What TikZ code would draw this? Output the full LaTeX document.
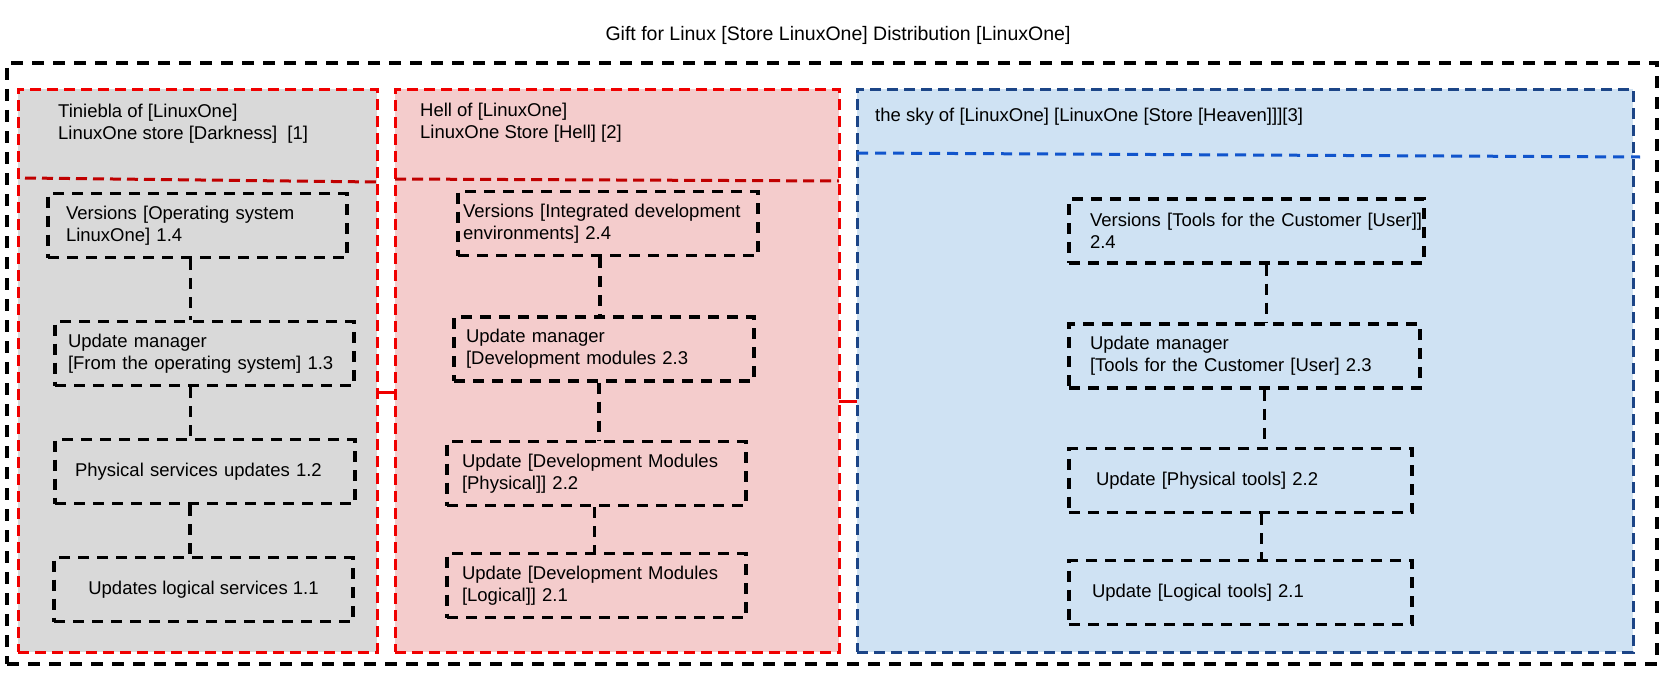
\documentclass[tikz,border=0pt]{standalone}
\usepackage{fontspec}
\setmainfont{Liberation Sans}
\definecolor{greyfill}{HTML}{D9D9D9}
\definecolor{pinkfill}{HTML}{F4CCCC}
\definecolor{bluefill}{HTML}{CFE2F3}
\definecolor{panelred}{HTML}{F00000}
\definecolor{divred}{HTML}{C00000}
\definecolor{panelblue}{HTML}{1C4587}
\definecolor{divblue}{HTML}{1155CC}
\begin{document}
\begin{tikzpicture}[x=1pt,y=-1pt,
    panel/.style={draw, line width=3pt, dash pattern=on 11pt off 6pt, minimum height=563pt, inner sep=0pt, outer sep=0pt},
    bx/.style={draw=black, line width=3.2pt, dash pattern=on 11pt off 8pt, align=left, inner ysep=0pt, minimum height=64pt, font=\fontsize{18.5}{22}\selectfont},
    hd/.style={anchor=west, align=left, inner sep=0pt, font=\fontsize{18.5}{22}\selectfont},
    link/.style={line width=3.2pt, dash pattern=on 11pt off 8pt}]
    \useasboundingbox (0,0) rectangle (1677,677);
    \node[font=\fontsize{19.5}{23}\selectfont] (title) at (838,35) {Gift for Linux [Store LinuxOne] Distribution [LinuxOne]};
    \node[draw, line width=3.2pt, dash pattern=on 12pt off 9pt, minimum width=1650pt, minimum height=601pt, inner sep=0pt] (frame) at (832,363.5) {};

    \node[panel, draw=panelred, fill=greyfill, minimum width=359pt] (p1) at (197.5,370.5) {};
    \node[panel, draw=panelred, fill=pinkfill, minimum width=444pt] (p2) at (617,370.5) {};
    \node[panel, draw=panelblue, fill=bluefill, minimum width=776pt] (p3) at (1245,370.5) {};
    \draw[divred, line width=3pt, dash pattern=on 11pt off 6pt] ([xshift=7pt,yshift=-89pt]p1.north west) -- ([yshift=-93pt]p1.north east);
    \draw[divred, line width=3pt, dash pattern=on 11pt off 6pt] ([yshift=-90pt]p2.north west) -- ([yshift=-92pt]p2.north east);
    \draw[divblue, line width=3pt, dash pattern=on 11pt off 7pt] ([yshift=-64pt]p3.north west) -- ([xshift=7pt,yshift=-68pt]p3.north east);
    \draw[panelred, line width=3pt] ([yshift=-21.5pt]p1.east) -- ([yshift=-21.5pt]p2.west);
    \draw[panelred, line width=3pt] ([yshift=-30.5pt]p2.east) -- ([yshift=-30.5pt]p3.west);

    \node[hd] (h1) at (58,124) {Tiniebla of [LinuxOne]\\LinuxOne store [Darkness]\ \ [1]};
    \node[hd] (h2) at (420,122.5) {Hell of [LinuxOne]\\LinuxOne Store [Hell] [2]};
    \node[hd] (h3) at (875,117) {the sky of [LinuxOne] [LinuxOne [Store [Heaven]]][3]};

    \node[bx, inner xsep=18pt, text width=263pt] (a4) at (197.5,225.5) {Versions [Operating system\\LinuxOne] 1.4};
    \node[bx, inner xsep=13pt, text width=273pt] (a3) at (204.5,353.5) {Update manager\\{}[From the operating system] 1.3};
    \node[bx, inner xsep=20pt, text width=260pt] (a2) at (205,471.5) {Physical services updates 1.2};
    \node[bx, minimum width=299pt] (a1) at (203.5,589.5) {Updates logical services 1.1};

    \node[bx, inner xsep=5pt, text width=290pt] (b4) at (608,223.5) {Versions [Integrated development\\environments] 2.4};
    \node[bx, inner xsep=12pt, text width=276pt] (b3) at (604,349) {Update manager\\{}[Development modules 2.3};
    \node[bx, inner xsep=15pt, text width=269pt] (b2) at (596.5,473.5) {Update [Development Modules\\{}[Physical]] 2.2};
    \node[bx, inner xsep=15pt, text width=269pt] (b1) at (596.5,585.5) {Update [Development Modules\\{}[Logical]] 2.1};

    \node[bx, inner xsep=21pt, text width=313pt] (c4) at (1246.5,231) {\mbox{Versions [Tools for the Customer [User]]}\\2.4};
    \node[bx, inner xsep=21pt, text width=309pt] (c3) at (1244.5,356) {Update manager\\{}[Tools for the Customer [User] 2.3};
    \node[bx, inner xsep=27pt, text width=289pt] (c2) at (1240.5,480.5) {Update [Physical tools] 2.2};
    \node[bx, inner xsep=23pt, text width=297pt] (c1) at (1240.5,592.5) {Update [Logical tools] 2.1};

    \foreach \u/\l/\dx in {a4/a3/-7,a3/a2/-14,a2/a1/-15,b4/b3/-8,b3/b2/-5,b2/b1/-2,c4/c3/20,c3/c2/20,c2/c1/21}
        \draw[link] ([xshift=\dx pt]\u.south) -- ([xshift=\dx pt]\u.south |- \l.north);
\end{tikzpicture}
\end{document}
